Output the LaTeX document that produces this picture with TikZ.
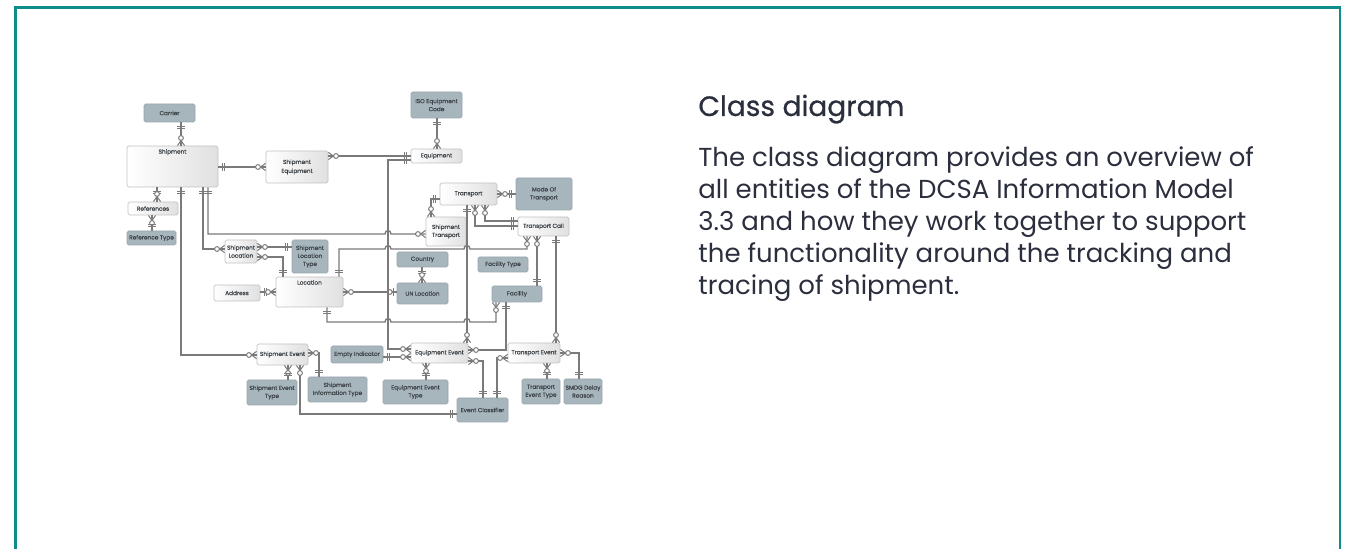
\documentclass[tikz,border=0pt]{standalone}
\usepackage{fontspec}
\setmainfont{Poppins}
\newfontfamily\headfont{Poppins}[FakeBold=0.6]
\newfontfamily\boxfont{Poppins}[FakeBold=0.5]
\usetikzlibrary{decorations.markings}

\definecolor{frameteal}{HTML}{0E8C8C}
\definecolor{inkblue}{HTML}{2B2E3C}
\definecolor{relgray}{HTML}{7A7A7A}
\definecolor{liteedge}{HTML}{C2C2C2}
\definecolor{darkfill}{HTML}{A7B5BC}
\definecolor{darkedge}{HTML}{96A6AE}
\definecolor{boxink}{HTML}{3E4449}

\tikzset{
  lite/.style={draw=liteedge, left color=white, right color=black!12, rounded corners=0.8pt,
    inner sep=0.3pt, align=center, text=boxink},
  dark/.style={draw=darkedge, fill=darkfill, rounded corners=0.8pt,
    inner sep=0.3pt, align=center, text=boxink},
  para/.style={anchor=base west, inner sep=0pt, text=inkblue, font=\fontsize{13}{16}\selectfont},
  rel/.style={draw=relgray, line width=0.7pt},
  tipline/.style={draw=relgray, line width=0.5pt},
  one end/.style={postaction={decorate, decoration={markings,
    mark=at position 0.9999 with {\draw[tipline] (-2pt,-1.8pt) -- (-2pt,1.8pt) (-3.2pt,-1.8pt) -- (-3.2pt,1.8pt);}}}},
  one start/.style={postaction={decorate, decoration={markings,
    mark=at position 0 with {\draw[tipline] (2pt,-1.8pt) -- (2pt,1.8pt) (3.2pt,-1.8pt) -- (3.2pt,1.8pt);}}}},
  many end/.style={postaction={decorate, decoration={markings,
    mark=at position 0.9999 with {\draw[tipline] (0pt,-1.8pt) -- (-2.5pt,0pt) -- (0pt,1.8pt);
      \draw[tipline, fill=white] (-3.8pt,0pt) circle (1.2pt);}}}},
  many start/.style={postaction={decorate, decoration={markings,
    mark=at position 0 with {\draw[tipline] (0pt,-1.8pt) -- (2.5pt,0pt) -- (0pt,1.8pt);
      \draw[tipline, fill=white] (3.8pt,0pt) circle (1.2pt);}}}},
  zone end/.style={postaction={decorate, decoration={markings,
    mark=at position 0.9999 with {\draw[tipline] (-1.6pt,-1.8pt) -- (-1.6pt,1.8pt);
      \draw[tipline, fill=white] (-3.4pt,0pt) circle (1.2pt);}}}},
}

\begin{document}
\begin{tikzpicture}[x=0.5pt, y=-0.5pt, font=\boxfont\fontsize{2.9}{3.5}\selectfont]
  \useasboundingbox (0,0) rectangle (1349,549);
  % FRAME
  \draw[frameteal, line width=1.3pt] (15.3,549) -- (15.3,7.3) -- (1340,7.3) -- (1340,549);

  % TEXT
  \node[para, font=\headfont\fontsize{14}{18}\selectfont] (title) at (698,116) {Class diagram};
  \node[para] (line1) at (698,167) {The class diagram provides an overview of};
  \node[para] (line2) at (698,199) {all entities of the DCSA Information Model};
  \node[para] (line3) at (698,231) {3.3 and how they work together to support};
  \node[para] (line4) at (698,263) {the functionality around the tracking and};
  \node[para] (line5) at (698,295) {tracing of shipment.};

  % SHIPMENT PART
  \node[dark, minimum width=25.5pt, minimum height=9pt] (carrier) at (169.5,113) {Carrier};
  \node[lite, minimum width=45.5pt, minimum height=20.5pt,
    label={[anchor=north, inner sep=1.6pt, text=boxink]north:Shipment}] (ship) at (172.5,166.5) {};
  \node[lite, minimum width=31pt, minimum height=16pt] (shipeq) at (297,167) {Shipment\\[1pt]Equipment};
  \node[lite, minimum width=25pt, minimum height=6.5pt] (refs) at (153,208.5) {References};
  \node[dark, minimum width=24.5pt, minimum height=7pt] (reftype) at (151.5,238) {Reference Type};
  \node[lite, minimum width=16pt, minimum height=11.5pt] (shiploc) at (241,251.5) {Shipment\\[0.5pt]Location};
  \node[dark, minimum width=18pt, minimum height=16.5pt] (shiploctype) at (310,256.5) {Shipment\\[0.5pt]Location\\[0.5pt]Type};
  \node[lite, minimum width=33.5pt, minimum height=15pt,
    label={[anchor=north, inner sep=1.6pt, text=boxink]north:Location}] (loc) at (309.5,292) {};
  \node[lite, minimum width=23pt, minimum height=8pt] (addr) at (237,293) {Address};

  % SHIPMENT EVENT PART
  \node[lite, minimum width=25.5pt, minimum height=10.5pt] (shipev) at (282.5,354.5) {Shipment Event};
  \node[dark, minimum width=25pt, minimum height=12.5pt] (shipevtype) at (272,392.5) {Shipment Event\\[0.5pt]Type};
  \node[dark, minimum width=29.5pt, minimum height=12.5pt] (shipinfotype) at (337.5,389.5) {Shipment\\[0.5pt]Information Type};
  \node[dark, minimum width=26pt, minimum height=8.5pt] (emptyind) at (357,354.5) {Empty Indicator};

  % EQUIPMENT AND TRANSPORT PART
  \node[dark, minimum width=25.5pt, minimum height=13pt] (isocode) at (436.5,105) {ISO Equipment\\[0.5pt]Code};
  \node[lite, minimum width=25.5pt, minimum height=7pt] (equip) at (436.5,156) {Equipment};
  \node[lite, minimum width=28.5pt, minimum height=11pt] (transport) at (468.5,194) {Transport};
  \node[dark, minimum width=28pt, minimum height=16pt] (modetr) at (544,194) {Mode Of\\[0.5pt]Transport};
  \node[lite, minimum width=20pt, minimum height=14.5pt] (shiptr) at (446,231.5) {Shipment\\[0.5pt]Transport};
  \node[lite, minimum width=25.5pt, minimum height=9.5pt] (trcall) at (543.5,226.5) {Transport Call};
  \node[dark, minimum width=25.5pt, minimum height=7.5pt] (country) at (422.5,259.5) {Country};
  \node[dark, minimum width=25.5pt, minimum height=10.5pt] (unloc) at (422.5,293.5) {UN Location};
  \node[dark, minimum width=25pt, minimum height=7.5pt] (factype) at (503,264.5) {Facility Type};
  \node[dark, minimum width=25pt, minimum height=8pt] (facility) at (517,294) {Facility};

  % EVENT PART
  \node[lite, minimum width=28.5pt, minimum height=10pt] (equipev) at (439.5,353) {Equipment Event};
  \node[lite, minimum width=26pt, minimum height=10pt] (trev) at (534,353) {Transport Event};
  \node[dark, minimum width=32.5pt, minimum height=12pt] (equipevtype) at (415.5,392) {Equipment Event\\[0.5pt]Type};
  \node[dark, minimum width=25.5pt, minimum height=12pt] (evclass) at (482.5,410) {Event Classifier};
  \node[dark, minimum width=19pt, minimum height=12.5pt] (trevtype) at (541,391.5) {Transport\\[0.5pt]Event Type};
  \node[dark, minimum width=19pt, minimum height=12.5pt] (smdg) at (583,391.5) {SMDG Delay\\[0.5pt]Reason};

  % LINKS
  \draw[rel, one start, many end] (carrier.south -| 181,0) -- (ship.north -| 181,0);
  \draw[rel, one start, many end] (ship.east |- 0,167) -- (shipeq.west |- 0,167);
  \draw[rel, many start, one end] (shipeq.east |- 0,156) -- (equip.west |- 0,156);
  \draw[rel, one start, many end] (isocode.south -| 437,0) -- (equip.north -| 437,0);
  \draw[rel, one start, many end] (ship.south -| 157,0) -- (refs.north -| 157,0);
  \draw[rel, many start, one end] (refs.south -| 152,0) -- (reftype.north -| 152,0);
  \draw[rel, one start, many end] (ship.south -| 181,0) |- (shipev.west |- 0,355);
  \draw[rel, one start, many end] (ship.south -| 203,0) |- (shiploc.west |- 0,249);
  \draw[rel, one start, many end] (ship.south -| 208,0) -- (208,234) -- (385,234)
    .. controls (385,229.5) and (391,229.5) .. (391,234) -- (shiptr.west |- 0,234);
  \draw[rel, many start, one end] (shiploc.east |- 0,247) -- (shiploctype.west |- 0,247);
  \draw[rel, many start, one end] (shiploc.east |- 0,257) -| (loc.north -| 283,0);
  \draw[rel, one start, many end] (loc.north -| 339,0) -- (339,249) -- (385,249)
    .. controls (385,244.5) and (391,244.5) .. (391,249) -- (464,249)
    .. controls (464,244.5) and (470,244.5) .. (470,249) -- (527,249) -- (trcall.south -| 527,0);
  \draw[rel, one start, many end] (addr.east |- 0,292) -- (loc.west |- 0,292);
  \draw[rel, many start, zone end] (loc.east |- 0,292) -- (unloc.west |- 0,292);
  \draw[rel, one start, many end] (country.south -| 422,0) -- (unloc.north -| 422,0);
  \draw[rel, one start, many end] (loc.south -| 327,0) -- (327,322) -- (385,322)
    .. controls (385,317.5) and (391,317.5) .. (391,322) -- (464,322)
    .. controls (464,317.5) and (470,317.5) .. (470,322) -- (496,322) -- (facility.south -| 496,0);
  \draw[rel, one start, many end] (facility.north -| 537,0) -- (trcall.south -| 537,0);
  \draw[rel, one start, many end] (trcall.south -| 556,0) -- (trev.north -| 556,0);
  \draw[rel, many start, one end] (transport.east |- 0,194) -- (modetr.west |- 0,194);
  \draw[rel, one start, many end] (transport.west |- 0,199) -| (shiptr.north -| 431,0);
  \draw[rel, many start, one end] (transport.south -| 475,0) |- (trcall.west |- 0,226);
  \draw[rel, many start, one end] (transport.south -| 485,0) |- (trcall.west |- 0,221);
  \draw[rel, one start, many end] (transport.south -| 467,0) -- (equipev.north -| 467,0);
  \draw[rel, one start, many end] (equip.west |- 0,160) -- (388,160) -- (388,349) -- (equipev.west |- 0,349);
  \draw[rel, one start, many end] (emptyind.east |- 0,357) -- (equipev.west |- 0,357);
  \draw[rel, many start, one end] (equipev.south -| 426,0) -- (equipevtype.north -| 426,0);
  \draw[rel, one start, many end] (facility.south -| 506,0) |- (equipev.east |- 0,350);
  \draw[rel, many start, one end] (equipev.east |- 0,361) -| (evclass.north -| 483,0);
  \draw[rel, many start, one end] (trev.west |- 0,358) -| (evclass.north -| 497,0);
  \draw[rel, many start, one end] (trev.south -| 547,0) -- (trevtype.north -| 547,0);
  \draw[rel, many start, one end] (trev.east |- 0,353) -| (smdg.north -| 579,0);
  \draw[rel, many start, one end] (shipev.south -| 288,0) -- (shipevtype.north -| 288,0);
  \draw[rel, many start, one end] (shipev.east |- 0,353) -| (shipinfotype.north -| 319,0);
  \draw[rel, many start, one end] (shipev.south -| 300,0) |- (evclass.west |- 0,414);
\end{tikzpicture}
\end{document}
